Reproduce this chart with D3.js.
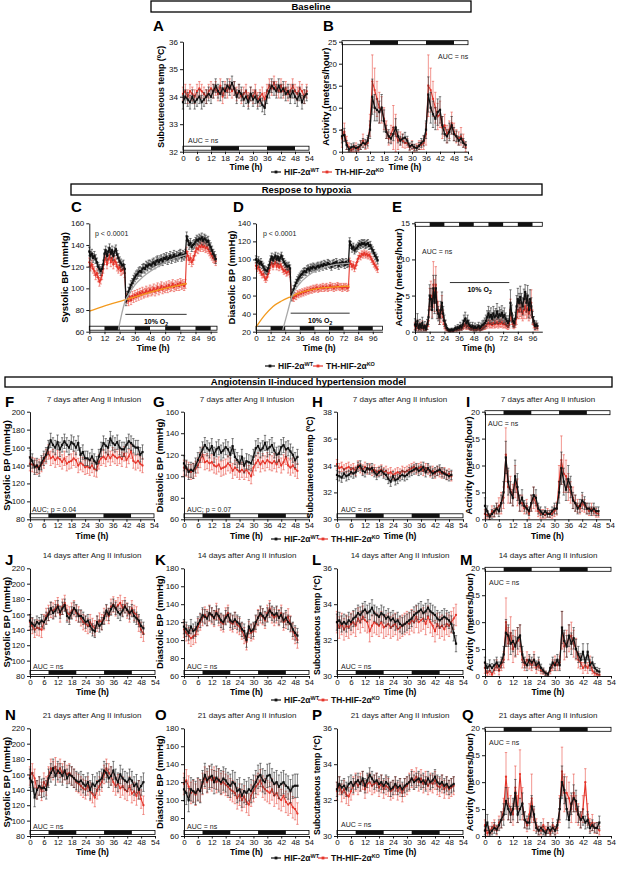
<!DOCTYPE html>
<html>
<head>
<meta charset="utf-8">
<script src="https://cdn.jsdelivr.net/npm/d3@7"></script>
<style>
  body { margin: 0; background: #fff; }
  svg { font-family: "Liberation Sans", Arial, Helvetica, sans-serif; }
</style>
</head>
<body>
<svg id="fig" width="617" height="869"></svg>
<script>
// ---------- tick labels ----------
const timeTicks54 = [0, 6, 12, 18, 24, 30, 36, 42, 48, 54];
const timeTicks96 = [0, 12, 24, 36, 48, 60, 72, 84, 96];
const tempTicksBase = [32, 33, 34, 35, 36];
const actTicksBase = [0, 5, 10, 15, 20, 25];
const sbpTicksHyp = [60, 80, 100, 120, 140, 160];
const dbpTicksHyp = [20, 40, 60, 80, 100, 120, 140];
const actTicksHyp = [0, 5, 10, 15];
const sbpTicks7 = [80, 100, 120, 140, 160, 180, 200];
const dbpTicks7 = [60, 80, 100, 120, 140, 160];
const tempTicks7 = [30, 32, 34, 36, 38];
const actTicksAng = [0, 5, 10, 15, 20];
const sbpTicksLate = [80, 100, 120, 140, 160, 180, 200, 220];
const dbpTicksLate = [60, 80, 100, 120, 140, 160, 180];
const tempTicksLate = [30, 32, 34, 36];

// ---------- light / dark periods (h) ----------
const darkBaseline = [[12, 24], [36, 48]];
const darkHypoxia = [[12, 24], [36, 48], [60, 72], [84, 96]];
const darkAngII = [[8, 20], [32, 44]];
const hypoxiaWindow = [28.5, 77];

// ---------- Baseline (hourly, 0-53 h) ----------
const tempBaseWT = [33.8,34.0,33.9,33.8,34.0,33.8,33.9,34.0,33.8,33.9,34.0,34.1,34.0,34.2,34.4,34.2,34.1,34.3,34.2,34.4,34.3,34.5,34.3,34.0,34.2,34.1,33.9,34.0,33.8,34.1,33.9,34.0,33.8,33.9,33.7,33.6,34.0,34.2,34.4,34.3,34.2,34.4,34.2,34.3,34.1,34.2,34.0,34.2,34.0,33.9,34.1,33.8,34.0,34.1];
const tempBaseKO = [34.1,34.2,34.0,34.2,34.1,34.0,34.2,34.3,34.2,34.1,34.0,34.2,34.3,34.2,34.3,34.1,34.4,34.0,34.3,34.2,34.4,34.2,34.3,34.1,34.2,34.0,34.1,34.2,33.9,34.1,34.0,34.2,33.9,34.0,34.1,33.9,34.2,34.4,34.3,34.5,34.3,34.2,34.4,34.2,34.3,34.1,34.2,34.4,34.2,34.1,34.3,34.2,34.0,34.2];
const actBaseWT = [3.5,3.8,1.5,0.5,1,1.2,0.8,1,1.5,2,1.8,2.5,5,12.5,10,9.5,9,10,7,4.5,3.5,3,4,5.5,3.5,2.5,3,3.2,2.5,1.2,1.5,1,0.8,1.3,2,2.5,5,13,10,8.5,7.5,9,9.5,6,4,3.5,4.5,6,4,3.5,2.5,3,2,1.5];
const actBaseKO = [3,4.5,2,1,0.3,0.8,1,0.5,1.5,2.5,1.5,2,6,16,14,12,10,9.5,7.5,5,3,4,5.5,4,2.5,3,2.5,2,2,1,1.5,0.8,1,1.5,1.5,2,4,15,14,12,10,8,8.5,5.5,6,4,5,6.5,4.5,3.5,3,3.5,2.5,1];
const actBaseWTErr = [1.5,1.5,1,0.6,0.8,0.8,0.6,0.7,1,1,1,1.2,2,4,3,2.5,2.5,3,2.5,1.5,1.5,1.2,1.5,2,1.5,1,1,1.2,1,0.8,0.8,0.7,0.6,0.8,1,1.2,2,4,3.5,3,2.5,3,3,2,1.5,1.5,2,2,1.5,1.2,1,1,1,0.8];
const actBaseKOErr = [2,2,1.5,1,0.5,0.8,1,0.6,1,1.5,1,1.2,2.5,6,5,4,3.5,3,2.5,2,1.5,2,5,4.5,2,1.5,1.5,1.2,1,0.8,1,0.8,0.8,1,1,1.5,2.5,7,5,4,3.5,3,3,2.5,2.5,2,2,2.5,2,1.5,1.5,2,1.5,1];

// ---------- Response to hypoxia (hourly, 0-100 h) ----------
const sbpHypWT = [134,130,132,128,130,127,124,120,118,116,118,122,132,135,130,134,137,132,135,130,134,136,131,128,125,123,121,122,118,88,93,97,100,103,105,108,110,112,113,115,116,115,118,119,118,121,120,122,122,121,123,124,122,125,126,124,126,127,125,128,127,129,126,128,130,127,129,131,128,130,129,131,132,129,131,130,132,148,144,140,142,138,140,141,143,145,144,146,145,147,144,146,145,143,144,140,138,135,132,130,127];
const sbpHypKO = [124,120,122,118,116,112,114,110,106,108,112,118,126,128,122,127,130,124,128,122,126,124,120,118,120,116,117,118,114,91,90,88,92,89,93,91,94,92,95,93,96,94,97,95,96,98,96,97,99,97,98,100,97,99,101,98,100,102,99,101,100,102,100,103,101,102,104,101,103,102,104,102,105,103,104,102,104,134,130,126,128,124,126,130,134,137,136,139,138,140,138,139,137,138,136,134,132,130,128,127,125];
const dbpHypWT = [100,97,99,95,97,94,92,89,88,87,90,94,100,103,99,102,104,100,103,99,102,104,100,97,95,93,92,93,90,58,63,67,71,74,77,79,81,83,84,86,87,86,89,90,88,91,90,92,91,90,92,93,91,93,94,92,95,94,93,96,95,94,92,95,96,94,97,95,93,96,95,97,96,94,97,95,96,120,116,112,114,110,112,113,115,117,116,118,117,118,116,117,118,115,116,112,110,107,104,102,99];
const dbpHypKO = [93,90,92,88,86,83,84,80,78,80,84,88,94,96,92,95,97,92,95,91,94,92,89,87,88,85,86,87,84,59,58,57,60,59,62,61,63,62,64,63,65,64,66,65,66,67,66,68,67,68,69,67,68,69,68,70,68,69,70,68,69,71,69,70,68,70,69,71,70,69,70,68,70,69,70,68,69,98,95,92,94,90,93,97,101,104,103,106,105,107,105,106,104,105,103,100,98,95,93,91,89];
const actHypWT = [1,0.8,1.5,0.5,1,0.6,1.2,0.5,0.8,0.4,1,2,5,4.5,3,6,4,6,3,2.5,2,3,4,2.5,1.5,1,0.5,0.3,0.2,0.2,0.3,0.2,0.3,0.5,0.4,0.6,0.5,0.8,0.6,1,1.5,1.8,1.2,1.5,1,0.8,0.6,0.8,0.5,0.7,0.5,0.6,0.8,0.5,0.7,0.9,1,1.2,1.5,2,2.5,2,2.3,1.8,2.5,2,2.2,2.8,2,2.4,2.2,2.6,2,2.3,1.8,1.5,1.2,1.5,4,2.5,1.5,1.2,1.8,3.5,4.5,4,4.8,4,3.5,4.5,5.5,4,5,3,4.5,3.5,2,1.5,0.8,1,0.8];
const actHypKO = [0.8,0.5,1,0.4,0.8,0.5,0.9,0.4,0.6,0.3,0.8,1.5,4.5,5,3.5,6.5,5,6.5,4,3,2,2.5,3.5,2,1,0.6,0.3,0.2,0.1,0.1,0.2,0.1,0.2,0.3,0.2,0.4,0.3,0.5,0.4,0.6,0.8,1,0.7,0.8,0.6,0.5,0.4,0.5,0.3,0.4,0.3,0.4,0.5,0.3,0.4,0.5,0.6,0.7,0.8,1,1.2,1,1.1,0.9,1.2,1,1.1,1.3,1,1.2,1.1,1.3,1,1.1,0.9,0.8,0.7,1,3,1.8,1,0.8,1.2,2,3,2.8,3.3,2.8,2.5,3,3.5,2.8,3.2,2.5,3,4,2,1,0.6,0.8,0.5];
const actHypWTErr = [0.8,0.6,1,0.4,0.7,0.5,0.8,0.4,0.6,0.3,0.7,1,1.5,1.5,1.2,1.8,1.5,1.8,1.2,1,1,1.2,1.5,1,0.8,0.6,0.3,0.2,0.2,0.2,0.2,0.2,0.2,0.3,0.3,0.4,0.3,0.5,0.4,0.6,0.8,0.9,0.7,0.8,0.6,0.5,0.4,0.5,0.4,0.5,0.4,0.4,0.5,0.4,0.5,0.6,0.6,0.7,0.8,0.9,1,0.9,1,0.8,1,0.9,1,1.1,0.9,1,0.9,1,0.9,1,0.8,0.7,0.6,0.7,1.8,1.2,0.8,0.6,0.9,1.5,1.5,1.3,1.5,1.3,1.2,1.4,1,1.3,1.4,1.1,1.3,1.2,0.8,0.6,0.5,0.5,0.4];
const actHypKOErr = [0.5,0.4,0.6,0.3,0.5,0.4,0.6,0.3,0.4,0.2,0.5,0.8,1.5,2,1.5,3.2,2.2,2.5,1.5,1.2,1,1.2,1.5,1,0.6,0.4,0.2,0.1,0.1,0.1,0.1,0.1,0.1,0.2,0.1,0.2,0.2,0.3,0.2,0.3,0.4,0.5,0.4,0.4,0.3,0.3,0.2,0.3,0.2,0.2,0.2,0.2,0.3,0.2,0.2,0.3,0.3,0.4,0.4,0.5,0.5,0.5,0.5,0.4,0.5,0.5,0.5,0.6,0.5,0.5,0.5,0.6,0.5,0.5,0.4,0.4,0.4,0.5,1.5,0.8,0.5,0.4,0.6,1,1.2,1,1.2,1,1,1.2,1.2,1,1.2,1,1.2,1.8,1,0.5,0.4,0.4,0.3];
// regression curves during hypoxia, [h, value]
const sbpFitWT = [[23,62],[28,87],[32,96],[36,103],[40,108],[45,113],[50,117],[56,121],[62,125],[68,128],[74,130],[77,131]];
const sbpFitKO = [[0,79],[10,83],[20,86.5],[30,90],[40,93.5],[50,97],[60,100],[70,102.5],[77,104.5]];
const dbpFitWT = [[22,22],[26,42],[29.5,59],[33,68],[37,75],[41,80],[46,85],[52,89],[58,92],[64,94],[70,95],[77,96]];
const dbpFitKO = [[0,25],[7,38],[14,48],[21,54],[29,59],[36,63],[44,66],[52,68],[60,69],[68,70],[77,70.5]];

// ---------- Ang II, 7 days ----------
const sbp7WT = [149,145,138,140,136,143,148,152,160,168,163,160,166,158,163,167,163,160,166,164,160,165,152,155,148,148,146,150,145,142,150,158,165,162,160,170,165,163,166,160,158,158,163,167,165,162,160,160,152,155];
const sbp7KO = [142,141,140,138,139,141,145,150,155,148,150,146,149,147,144,148,142,144,145,148,146,140,143,141,138,139,137,140,136,135,144,148,150,147,152,148,152,150,148,150,147,153,146,150,156,145,143,145,142,140];
const dbp7WT = [112,108,104,106,105,110,115,120,125,129,126,124,128,120,125,127,122,124,127,125,120,128,118,115,112,118,110,114,113,112,118,126,128,124,126,131,125,127,129,124,120,121,127,129,125,126,123,120,115,118];
const dbp7KO = [108,107,106,104,105,107,110,115,120,113,114,112,113,110,109,111,107,108,109,112,110,105,108,106,104,106,104,106,103,100,108,112,115,111,114,112,115,113,112,114,111,115,110,113,118,110,108,110,107,105];
const temp7WT = [33.3,33.2,33.1,33.4,33.2,33.3,33.5,33.4,33.5,33.9,34.0,33.6,33.5,33.8,33.7,33.8,33.5,33.3,33.5,33.6,33.4,33.3,33.0,32.8,33.2,32.9,33.0,33.2,33.3,33.2,33.3,33.5,33.6,33.7,33.8,33.6,33.7,33.9,33.5,33.8,33.6,33.4,33.5,33.6,33.7,33.5,33.4,33.3,33.2,33.3];
const temp7KO = [34.1,33.8,33.9,33.7,33.8,33.9,33.7,33.8,33.6,34.0,33.8,33.7,33.9,33.7,33.8,33.6,33.7,33.5,33.6,33.7,33.5,33.6,33.4,33.5,33.3,33.4,33.5,33.4,33.6,33.5,33.6,33.7,33.8,33.9,33.7,33.8,33.9,33.6,33.8,33.7,33.5,33.6,33.4,33.6,33.5,33.4,33.5,33.3,33.4,33.2];
const act7WT = [2.5,1.5,0.5,1,1.5,2,1.5,3,5,11.5,7,5,4,8,6,3,4,2.5,2,1.5,3,4.5,4,2,1.5,1,1.5,1,1,1.5,2,2,5,9.5,7,5.5,7.5,6,3.5,3,2,2.5,3.5,3,2,2,1.5,2,1.5,1.5];
const act7KO = [1,0.8,0.5,1.5,1.2,2,2.5,3,4,12,6,5.5,4.5,7,5,3,3,2,2.5,1,3,4,3,1.5,1,1,0.8,1.2,1,1,1.5,2,7,11,8.5,8,6,5,4,3,2.5,2,3,2.5,2,1.5,2,1.5,1.2,1];
const act7WTErr = [1.5,1,0.5,0.8,1,1,1,1.5,2,3,2.5,2,1.5,3,2.5,1.5,1.5,1,1,0.8,1.5,1.5,1.5,1,0.8,0.6,0.8,0.6,0.6,0.8,1,1,2,3,2.5,2,2.5,2,1.5,1.5,1,1.2,1.5,1.2,1,1,0.8,1,0.8,0.8];
const act7KOErr = [0.8,0.6,0.5,1,0.8,1,1.5,2,2,5,3,2.5,2,3,2.5,1.5,1.5,1,1.2,0.8,1.5,2,1.5,1,0.8,0.8,0.6,0.8,0.7,0.8,1,1.2,3,4.5,3.5,3,2.5,2,2,1.5,1.2,1,1.5,1.2,1,0.8,1,0.8,0.8,0.6];

// ---------- Ang II, 14 days ----------
const sbp14WT = [152,148,145,150,148,152,150,155,160,168,162,165,170,163,168,172,158,155,162,168,165,158,158,155,150,152,145,140,138,150,145,148,155,165,160,167,172,168,163,160,165,170,166,162,165,158,155,152,145,142];
const sbp14KO = [150,145,140,143,142,140,150,158,162,166,165,168,172,160,170,175,162,160,165,168,162,160,155,150,148,145,150,145,142,148,152,150,158,162,158,170,173,168,172,175,168,172,165,160,168,162,160,148,140,135];
const dbp14WT = [115,112,108,115,110,112,118,122,128,126,124,130,128,125,130,127,122,120,125,128,122,120,123,120,118,112,110,100,115,110,112,120,125,130,127,124,128,133,130,128,130,125,128,122,125,120,118,112,108,105];
const dbp14KO = [112,108,105,102,104,106,115,120,125,128,125,130,127,124,132,125,120,118,127,130,120,118,122,117,115,110,105,98,112,108,110,118,125,128,126,122,130,135,128,125,128,125,130,120,122,126,118,110,105,100];
const temp14WT = [33.0,33.1,32.9,33.0,32.9,33.1,33.0,33.2,33.3,33.5,33.4,33.6,33.7,33.5,33.6,33.8,33.5,33.4,33.3,33.5,33.4,33.2,33.3,33.1,33.2,33.0,33.1,32.9,32.8,32.9,33.0,33.1,33.2,33.4,33.5,33.6,33.7,33.5,33.6,33.8,33.6,33.5,33.4,33.2,33.1,33.2,33.3,33.2,33.1,32.9,32.4,31.8];
const temp14KO = [33.0,32.7,32.9,32.6,32.8,32.7,32.9,33.0,32.8,33.2,33.0,33.3,33.1,33.0,32.5,32.8,33.0,32.9,32.8,33.0,32.7,32.8,32.9,32.7,32.8,32.9,32.6,32.7,32.8,32.9,33.0,32.9,33.1,33.0,33.3,33.0,33.1,33.2,32.9,33.3,33.0,32.8,32.5,32.9,32.7,32.8,32.6,32.9,32.8,33.0,33.2,33.4];
const act14WT = [2.5,1.5,2,1.5,2,2.5,1.8,2.5,4,8,7.5,6,6.5,5.5,7,7.5,4,2.5,2,3,2.5,3,2,2.5,1.5,1,0.5,0.3,1.5,2.5,2,3,2,9,6.5,5.5,7.5,6,7,5,4,3,4.5,2.5,4.5,2,2.5,1.5,1,0.8];
const act14KO = [1.5,0.5,1,0.3,1.2,2,1,2,3,10,6,8,5,6,6.5,7,3,2,3,2.5,2,3,1.5,2,1,0.8,0.5,0.3,1,2,2.5,2,2.5,8.5,5.5,6,7,7.5,6,5,3,2.5,1.5,2,1.5,2.5,1,0.5,0.3,0.2];
const act14WTErr = [1,0.8,1,0.8,1,1,0.8,1,1.5,2.5,2,2,2,1.8,2,2,1.5,1,1,1,1,1,0.8,1,0.7,0.5,0.4,0.3,0.7,1,1,1,1,3,2,2,2,2,2,1.8,1.5,1.2,1.5,1,1.5,1,1,0.8,0.6,0.6];
const act14KOErr = [1,0.5,0.8,0.3,0.8,1,0.8,1,1.5,4.5,3,3,2.5,2.5,2.5,2.5,1.5,1,1.5,1.2,1,1.5,1,1,0.6,0.5,0.4,0.3,0.6,1,1.2,1,1.2,3.5,2.5,2.5,2.5,2.5,2.5,2,1.5,1.2,1,1,1,1.2,0.6,0.4,0.3,0.2];

// ---------- Ang II, 21 days ----------
const sbp21WT = [155,150,130,140,145,142,143,140,155,162,168,158,165,162,158,165,155,160,158,155,152,150,152,148,145,150,140,148,145,150,152,155,165,162,155,158,165,155,150,160,155,152,150,155,152,145,148,140,145,150];
const sbp21KO = [158,162,155,140,145,138,150,145,158,168,165,170,162,168,162,165,160,162,158,155,150,148,145,142,140,145,138,135,130,140,145,150,160,168,162,158,150,145,148,142,145,140,138,145,135,138,132,140,128,120];
const dbp21WT = [112,108,100,112,110,108,112,110,120,128,122,125,127,120,125,122,120,124,122,118,116,120,118,110,112,105,110,108,112,110,115,120,126,128,122,120,127,128,122,118,120,115,118,120,116,114,110,115,116,116];
const dbp21KO = [118,122,115,108,110,106,112,110,118,125,120,126,122,125,120,123,118,120,117,115,112,110,108,102,106,100,104,98,95,105,110,115,118,122,115,112,110,108,112,105,108,102,100,105,98,95,97,92,90,85];
const temp21WT = [32.6,32.9,32.7,32.8,32.6,32.9,33.0,32.8,33.0,33.1,32.9,33.2,32.8,33.1,33.4,33.2,33.0,33.1,32.9,33.0,32.8,33.0,32.9,32.6,32.7,32.9,32.7,32.8,32.6,32.8,32.9,33.0,33.2,33.0,33.1,33.2,33.0,33.1,32.9,33.2,33.0,33.1,33.3,33.0,32.9,33.0,32.8,32.9,32.7,32.8,32.9];
const temp21KO = [32.5,32.8,32.4,32.6,32.3,32.2,32.5,32.8,33.0,32.8,33.0,33.1,32.6,32.9,33.0,32.8,32.9,33.0,32.7,32.9,32.6,32.8,32.7,32.5,32.6,32.8,32.5,32.7,32.4,32.7,32.8,33.0,33.2,33.1,33.3,33.0,33.2,32.9,33.1,32.8,33.0,32.9,33.1,32.8,32.7,32.9,32.6,32.8,32.6,32.7,32.8];
const act21WT = [1,2.5,0.5,1,1.5,1.2,2,3,4,6.5,5,4,5,8,4,5,6,3,2.5,2.5,5.5,4,1.5,1,1.5,1,0.5,1.5,1,1.5,1,2,5,10,8.5,5,3,6,7,6.5,4,3,3.5,2.5,3,1.5,2,1.5,1.5,2.5];
const act21KO = [2,0.5,1,1.5,2,1,2.5,3,5,11,6,5,4,9,5,11.5,6,3,2,4,7,3,2,1,1,2,1,1.5,0.5,2,1,1.5,5,12,8,8,7,5,8,5,4,3,5,10,4,2,2.5,1.5,1.5,1];
const act21WTErr = [0.8,1.5,0.5,0.8,1,0.8,1,1.5,2,2.5,2,1.5,2,2.5,1.5,2,2,1.5,1.2,1.2,2,1.5,1,0.8,1,0.8,0.5,1,0.8,1,0.8,1,2,3,2.5,2,1.5,2,2.5,2,1.5,1.5,1.5,1.2,1.5,1,1,0.8,1,1.2];
const act21KOErr = [1,0.5,0.8,1,1,0.8,1.2,1.5,2,4.5,3,2.5,2,4,2.5,4.5,3,1.5,1.2,2,4.5,2,1.2,0.8,0.8,1.2,0.8,1,0.5,1.2,0.8,1,2.5,4.5,3.5,3,3,2.5,3.5,2.5,2,1.5,2.5,2.5,2,1.2,1.5,1,1,0.8];

// ---------- drawing ----------
const svg = d3.select("#fig");
const BLACK = "#111";
const RED = "#e5352b";

function drawPanel(p) {
    let x = d3.scaleLinear().domain(p.xd).range([p.l, p.r]);
    let y = d3.scaleLinear().domain(p.yd).range([p.b, p.t]).clamp(true);
    let g = svg.append("g").attr("id", "panel" + p.id);

    // light/dark cycle bar
    let barY = p.bar === "top" ? p.t - 1 : p.b - 5.5;
    g.append("rect")
        .attr("x", p.l).attr("y", barY)
        .attr("width", p.r - p.l).attr("height", 4)
        .attr("fill", "#fff").attr("stroke", "#000").attr("stroke-width", 0.8);
    g.selectAll(null).data(p.dark).enter()
        .append("rect")
        .attr("x", d => x(d[0])).attr("y", barY)
        .attr("width", d => x(d[1]) - x(d[0])).attr("height", 4)
        .attr("fill", BLACK);

    // KO first, WT on top
    let groups = [
        { vals: p.ko, err: p.koErr, col: RED, ecol: "#ea5047", lw: 1.1, shape: "circle" },
        { vals: p.wt, err: p.wtErr, col: BLACK, ecol: "#2a2a2a", lw: 1.3, shape: "square" }
    ];
    groups.forEach(s => {
        let pts = s.vals.map((v, i) => ({ h: i, v: v, e: Array.isArray(s.err) ? s.err[i] : s.err }));
        let sg = g.append("g");
        sg.selectAll(null).data(pts).enter()
            .append("path")
            .attr("d", d => `M${x(d.h)},${y(d.v - d.e)}V${y(d.v + d.e)}` +
                `M${x(d.h) - 1.2},${y(d.v + d.e)}h2.4M${x(d.h) - 1.2},${y(d.v - d.e)}h2.4`)
            .attr("stroke", s.ecol).attr("stroke-width", 0.6).attr("fill", "none");
        sg.append("path").datum(pts)
            .attr("d", d3.line().x(d => x(d.h)).y(d => y(d.v)))
            .attr("fill", "none").attr("stroke", s.col).attr("stroke-width", s.lw);
        if (s.shape === "square") {
            sg.selectAll(null).data(pts).enter()
                .append("rect")
                .attr("x", d => x(d.h) - 1.1).attr("y", d => y(d.v) - 1.1)
                .attr("width", 2.2).attr("height", 2.2).attr("fill", s.col);
        } else {
            sg.selectAll(null).data(pts).enter()
                .append("circle")
                .attr("cx", d => x(d.h)).attr("cy", d => y(d.v))
                .attr("r", 1.15).attr("fill", s.col);
        }
    });

    // regression curves
    (p.fits || []).forEach(f => {
        g.append("path").datum(f.pts)
            .attr("d", d3.line().x(d => x(d[0])).y(d => y(d[1])).curve(d3.curveMonotoneX))
            .attr("fill", "none").attr("stroke", f.col).attr("stroke-width", 1.3);
    });

    // hypoxia period marker
    if (p.hyp !== undefined) {
        g.append("line")
            .attr("x1", x(hypoxiaWindow[0])).attr("x2", x(hypoxiaWindow[1]))
            .attr("y1", y(p.hyp)).attr("y2", y(p.hyp))
            .attr("stroke", "#333").attr("stroke-width", 1);
        let t = g.append("text")
            .attr("x", (x(hypoxiaWindow[0]) + x(hypoxiaWindow[1])) / 2)
            .attr("y", y(p.hyp) + 9.5)
            .attr("text-anchor", "middle").attr("font-size", 7).attr("font-weight", "bold")
            .text("10% O");
        t.append("tspan").attr("font-size", 5).attr("dy", 2).text("2");
    }

    // axes
    let ay = g.append("g")
        .attr("transform", `translate(${p.l},0)`)
        .call(d3.axisLeft(y).tickValues(p.yt).tickFormat(d3.format("d"))
            .tickSize(3).tickPadding(2).tickSizeOuter(0));
    let ax = g.append("g")
        .attr("transform", `translate(0,${p.b})`)
        .call(d3.axisBottom(x).tickValues(p.xt).tickFormat(d3.format("d"))
            .tickSize(2.5).tickPadding(1).tickSizeOuter(0));
    [ay, ax].forEach(a => {
        a.attr("font-family", null).attr("font-size", 8);
        a.selectAll("path, line").attr("stroke", "#000").attr("stroke-width", 0.9);
        a.selectAll("text").attr("fill", "#111");
    });

    g.append("text")
        .attr("x", (p.l + p.r) / 2).attr("y", p.b + (p.timeDy || 19.3))
        .attr("text-anchor", "middle").attr("font-size", 8.5).attr("font-weight", "bold")
        .text("Time (h)");
    g.append("text")
        .attr("transform", `translate(${p.ylx},${(p.t + p.b) / 2 + (p.yldy || 0)}) rotate(-90)`)
        .attr("text-anchor", "middle").attr("dominant-baseline", "middle")
        .attr("font-size", p.ylfs || 9.5).attr("font-weight", "bold")
        .text(p.ylab);

    // panel letter, title, notes
    g.append("text")
        .attr("x", p.letter[0]).attr("y", p.letter[1])
        .attr("font-size", 15).attr("font-weight", "bold")
        .text(p.id);
    if (p.title) {
        g.append("text")
            .attr("x", p.title[0]).attr("y", p.title[1])
            .attr("text-anchor", "middle").attr("font-size", 8).attr("fill", "#222")
            .text(p.title[2]);
    }
    (p.notes || []).forEach(n => {
        g.append("text")
            .attr("x", n[0]).attr("y", n[1])
            .attr("font-size", 7).attr("fill", "#222")
            .text(n[2]);
    });
}

function sectionHeader(x0, x1, y0, y1, label) {
    svg.append("rect")
        .attr("x", x0).attr("y", y0).attr("width", x1 - x0).attr("height", y1 - y0)
        .attr("fill", "#fff").attr("stroke", "#000").attr("stroke-width", 1.3);
    svg.append("text")
        .attr("x", (x0 + x1) / 2).attr("y", (y0 + y1) / 2 + 3.3)
        .attr("text-anchor", "middle").attr("font-size", 9.5).attr("font-weight", "bold")
        .text(label);
}

function legend(cxWT, cxKO, cy) {
    [[cxWT, BLACK, "HIF-2α", "WT"], [cxKO, RED, "TH-HIF-2α", "KO"]].forEach(([cx, col, name, sup]) => {
        svg.append("line")
            .attr("x1", cx - 5).attr("x2", cx + 5).attr("y1", cy).attr("y2", cy)
            .attr("stroke", col).attr("stroke-width", 1.2);
        svg.append("rect")
            .attr("x", cx - 1.4).attr("y", cy - 1.4).attr("width", 2.8).attr("height", 2.8)
            .attr("fill", col);
        let t = svg.append("text")
            .attr("x", cx + 8).attr("y", cy + 3)
            .attr("font-size", 8.5).attr("font-weight", "bold").attr("fill", "#111")
            .text(name);
        t.append("tspan").attr("font-size", 5.5).attr("dy", -3.5).text(sup);
    });
}

// ---------- panels ----------
const ang7 = "7 days after Ang II infusion";
const ang14 = "14 days after Ang II infusion";
const ang21 = "21 days after Ang II infusion";

const panels = [
    { id: "A", l: 183, r: 309, t: 41.7, b: 151.7, xd: [0, 54], xt: timeTicks54, yd: [32, 36], yt: tempTicksBase,
      bar: "bottom", dark: darkBaseline, wt: tempBaseWT, ko: tempBaseKO, wtErr: 0.25, koErr: 0.25, timeDy: 17.8,
      letter: [153, 31], ylab: "Subcuteneous temp (ºC)", ylx: 162, ylfs: 8.8, notes: [[188, 143, "AUC = ns"]] },
    { id: "B", l: 342, r: 468, t: 41.7, b: 151.7, xd: [0, 54], xt: timeTicks54, yd: [0, 25], yt: actTicksBase,
      bar: "top", dark: darkBaseline, wt: actBaseWT, ko: actBaseKO, wtErr: actBaseWTErr, koErr: actBaseKOErr, timeDy: 17.8,
      letter: [323, 31], ylab: "Activity (meters/hour)", ylx: 326, notes: [[438, 59, "AUC = ns"]] },

    { id: "C", l: 89.3, r: 217, t: 223.3, b: 331.7, xd: [0, 101], xt: timeTicks96, yd: [60, 160], yt: sbpTicksHyp,
      bar: "bottom", dark: darkHypoxia, wt: sbpHypWT, ko: sbpHypKO, wtErr: 4, koErr: 4,
      fits: [{ pts: sbpFitKO, col: "#f39a1e" }, { pts: sbpFitWT, col: "#a8a8a8" }], hyp: 76,
      letter: [71, 212], ylab: "Systolic BP (mmHg)", ylx: 65, notes: [[95, 236, "p < 0.0001"]] },
    { id: "D", l: 256, r: 382.5, t: 223.3, b: 331.7, xd: [0, 104], xt: timeTicks96, yd: [20, 140], yt: dbpTicksHyp,
      bar: "bottom", dark: darkHypoxia, wt: dbpHypWT, ko: dbpHypKO, wtErr: 4, koErr: 3.5,
      fits: [{ pts: dbpFitKO, col: "#f39a1e" }, { pts: dbpFitWT, col: "#a8a8a8" }], hyp: 40.5,
      letter: [233, 212], ylab: "Diastolic BP (mmHg)", ylx: 232, notes: [[263, 236, "p < 0.0001"]] },
    { id: "E", l: 415, r: 542.3, t: 223.3, b: 331.7, xd: [0, 104], xt: timeTicks96, yd: [0, 15], yt: actTicksHyp,
      bar: "top", dark: darkHypoxia, wt: actHypWT, ko: actHypKO, wtErr: actHypWTErr, koErr: actHypKOErr, hyp: 6.8,
      letter: [392, 212], ylab: "Activity (meters/hour)", ylx: 399, notes: [[422, 254, "AUC = ns"]] },

    { id: "F", l: 30, r: 154, t: 411.7, b: 519.3, xd: [0, 54], xt: timeTicks54, yd: [80, 200], yt: sbpTicks7,
      bar: "bottom", dark: darkAngII, wt: sbp7WT, ko: sbp7KO, wtErr: 8, koErr: 8,
      letter: [5, 407], title: [94, 402, ang7], ylab: "Systolic BP (mmHg)", ylx: 7, notes: [[32, 512, "AUC; p = 0.04"]] },
    { id: "G", l: 184, r: 309, t: 411.7, b: 519.3, xd: [0, 54], xt: timeTicks54, yd: [60, 160], yt: dbpTicks7,
      bar: "bottom", dark: darkAngII, wt: dbp7WT, ko: dbp7KO, wtErr: 7, koErr: 7,
      letter: [153, 407], title: [247, 402, ang7], ylab: "Diastolic BP (mmHg)", ylx: 160, notes: [[187, 512, "AUC; p = 0.07"]] },
    { id: "H", l: 337, r: 463, t: 411.7, b: 519.3, xd: [0, 54], xt: timeTicks54, yd: [30, 38], yt: tempTicks7,
      bar: "bottom", dark: darkAngII, wt: temp7WT, ko: temp7KO, wtErr: 0.35, koErr: 0.35,
      letter: [312, 407], title: [400, 402, ang7], ylab: "Subcutaneous temp (ºC)", ylx: 311, ylfs: 8.8, yldy: 2,
      notes: [[341, 512, "AUC = ns"]] },
    { id: "I", l: 485, r: 610, t: 411.7, b: 519.3, xd: [0, 54], xt: timeTicks54, yd: [0, 20], yt: actTicksAng,
      bar: "top", dark: darkAngII, wt: act7WT, ko: act7KO, wtErr: act7WTErr, koErr: act7KOErr,
      letter: [466, 407], title: [548, 402, ang7], ylab: "Activity (meters/hour)", ylx: 469, notes: [[488, 426, "AUC = ns"]] },

    { id: "J", l: 30, r: 155, t: 568.3, b: 676, xd: [0, 54], xt: timeTicks54, yd: [80, 220], yt: sbpTicksLate,
      bar: "bottom", dark: darkAngII, wt: sbp14WT, ko: sbp14KO, wtErr: 8, koErr: 10,
      letter: [5, 565], title: [92, 558, ang14], ylab: "Systolic BP (mmHg)", ylx: 7, notes: [[33, 669, "AUC = ns"]] },
    { id: "K", l: 184, r: 309, t: 568.3, b: 676, xd: [0, 54], xt: timeTicks54, yd: [60, 180], yt: dbpTicksLate,
      bar: "bottom", dark: darkAngII, wt: dbp14WT, ko: dbp14KO, wtErr: 8, koErr: 9,
      letter: [155, 565], title: [247, 558, ang14], ylab: "Diastolic BP (mmHg)", ylx: 160, notes: [[187, 669, "AUC = ns"]] },
    { id: "L", l: 337, r: 463, t: 568.3, b: 676, xd: [0, 54], xt: timeTicks54, yd: [30, 36], yt: tempTicksLate,
      bar: "bottom", dark: darkAngII, wt: temp14WT, ko: temp14KO, wtErr: 0.45, koErr: 0.6,
      letter: [312, 565], title: [400, 558, ang14], ylab: "Subcutaneous temp (ºC)", ylx: 318, ylfs: 8.6, yldy: 3,
      notes: [[341, 669, "AUC = ns"]] },
    { id: "M", l: 485, r: 611, t: 568.3, b: 676, xd: [0, 54], xt: timeTicks54, yd: [0, 20], yt: actTicksAng,
      bar: "top", dark: darkAngII, wt: act14WT, ko: act14KO, wtErr: act14WTErr, koErr: act14KOErr,
      letter: [460, 565], title: [548, 558, ang14], ylab: "Activity (meters/hour)", ylx: 470, notes: [[489, 585, "AUC = ns"]] },

    { id: "N", l: 30, r: 155, t: 728.3, b: 836, xd: [0, 54], xt: timeTicks54, yd: [80, 220], yt: sbpTicksLate,
      bar: "bottom", dark: darkAngII, wt: sbp21WT, ko: sbp21KO, wtErr: 12, koErr: 12,
      letter: [5, 720], title: [92, 718, ang21], ylab: "Systolic BP (mmHg)", ylx: 7, notes: [[33, 829, "AUC = ns"]] },
    { id: "O", l: 184, r: 309, t: 728.3, b: 836, xd: [0, 54], xt: timeTicks54, yd: [60, 180], yt: dbpTicksLate,
      bar: "bottom", dark: darkAngII, wt: dbp21WT, ko: dbp21KO, wtErr: 13, koErr: 12,
      letter: [155, 720], title: [247, 718, ang21], ylab: "Diastolic BP (mmHg)", ylx: 160, notes: [[187, 829, "AUC = ns"]] },
    { id: "P", l: 337, r: 463, t: 728.3, b: 836, xd: [0, 54], xt: timeTicks54, yd: [30, 36], yt: tempTicksLate,
      bar: "bottom", dark: darkAngII, wt: temp21WT, ko: temp21KO, wtErr: 0.4, koErr: 0.5,
      letter: [312, 720], title: [400, 718, ang21], ylab: "Subcutaneous temp (ºC)", ylx: 318, ylfs: 8.6, yldy: 3,
      notes: [[341, 827, "AUC = ns"]] },
    { id: "Q", l: 485, r: 611, t: 728.3, b: 836, xd: [0, 54], xt: timeTicks54, yd: [0, 20], yt: actTicksAng,
      bar: "top", dark: darkAngII, wt: act21WT, ko: act21KO, wtErr: act21WTErr, koErr: act21KOErr,
      letter: [462, 720], title: [548, 718, ang21], ylab: "Activity (meters/hour)", ylx: 470, notes: [[489, 745, "AUC = ns"]] }
];

sectionHeader(151, 471, 1, 12, "Baseline");
sectionHeader(71, 542, 184, 195, "Respose to hypoxia");
sectionHeader(5, 612, 377, 387, "Angiotensin II-induced hypertension model");

panels.forEach(drawPanel);

legend(276, 327, 172);
legend(270, 318, 366);
legend(276, 323, 539);
legend(276, 323, 700);
legend(276, 323, 858);
</script>
</body>
</html>
